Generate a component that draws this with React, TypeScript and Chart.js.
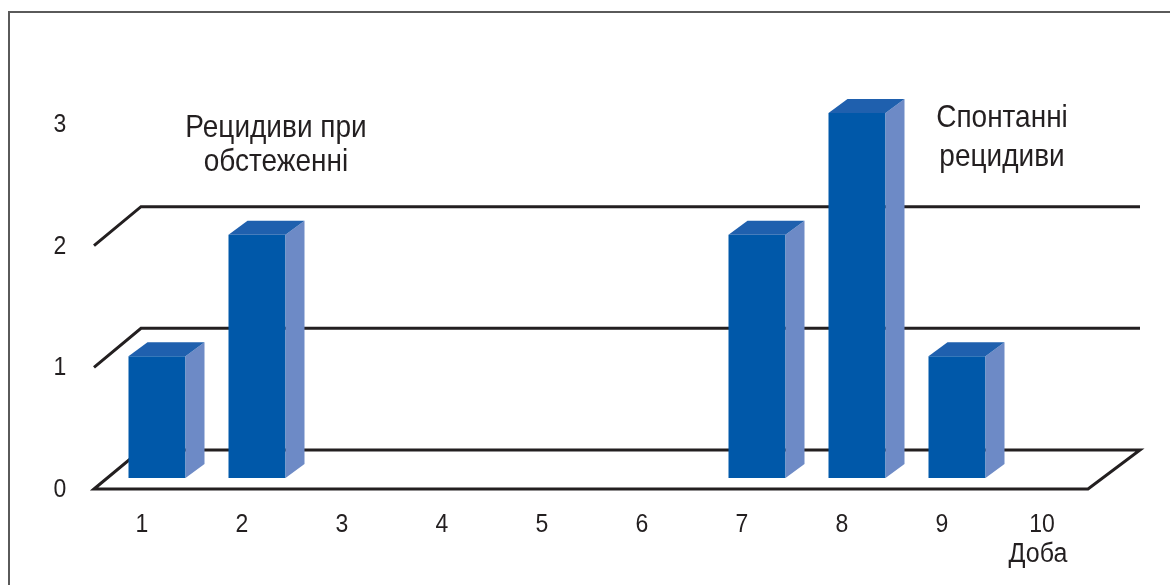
import React, { useEffect, useRef } from "react";
import { Chart, registerables } from "chart.js";

Chart.register(...registerables);

const days = ["1", "2", "3", "4", "5", "6", "7", "8", "9", "10"];
const relapses = [1, 2, 0, 0, 0, 0, 2, 3, 1, 0];
const yTicks = [0, 1, 2, 3];
const gridValues = [1, 2];
const noteLeft = ["Рецидиви при", "обстеженні"];
const noteRight = ["Спонтанні", "рецидиви"];
const xTitle = "Доба";

const FONT = "'Liberation Sans', Arial, sans-serif";
const FRONT_COLOR = "#0058a9";
const SIDE_COLOR = "#6d8ac6";
const TOP_COLOR = "#1f60ae";
const LINE_COLOR = "#231f20";
const TEXT_COLOR = "#231f20";
const V_STRETCH = 1.1;

// depth geometry (pixels)
const FLOOR_DX = 47;
const FLOOR_DY = 39;
const BAR_FRONT_OFF = 11; // bar baseline above front edge
const BAR_DX = 19;
const BAR_DY = 14;

function drawText(ctx: CanvasRenderingContext2D, text: string, x: number, y: number, size: number, align: CanvasTextAlign = "center") {
  ctx.save();
  ctx.translate(x, y);
  ctx.scale(1, V_STRETCH);
  ctx.font = `${size}px ${FONT}`;
  ctx.textAlign = align;
  ctx.textBaseline = "alphabetic";
  ctx.fillStyle = TEXT_COLOR;
  ctx.fillText(text, 0, 0);
  ctx.restore();
}

const threeD = {
  id: "threeD",
  beforeDatasetsDraw(chart: any) {
    const ctx = chart.ctx;
    const ys = chart.scales.y;
    const ca = chart.chartArea;
    const xFL = ca.left - 13;
    const xFR = ca.right - 19;
    const xBR = ca.right + 33;
    ctx.save();
    // frame
    ctx.strokeStyle = "#5a5a5a";
    ctx.lineWidth = 2;
    ctx.beginPath();
    ctx.moveTo(9, 585);
    ctx.lineTo(9, 12);
    ctx.lineTo(1170, 12);
    ctx.stroke();

    ctx.strokeStyle = LINE_COLOR;
    ctx.lineWidth = 3;
    ctx.lineJoin = "miter";
    gridValues.forEach((v) => {
      const yF = ys.getPixelForValue(v) + BAR_FRONT_OFF;
      ctx.beginPath();
      ctx.moveTo(xFL, yF);
      ctx.lineTo(xFL + FLOOR_DX, yF - FLOOR_DY);
      ctx.lineTo(xBR, yF - FLOOR_DY);
      ctx.stroke();
    });
    const y0 = ys.getPixelForValue(0) + BAR_FRONT_OFF;
    ctx.beginPath();
    ctx.moveTo(xFL, y0);
    ctx.lineTo(xFL + FLOOR_DX, y0 - FLOOR_DY);
    ctx.lineTo(xBR, y0 - FLOOR_DY);
    ctx.lineTo(xFR, y0);
    ctx.closePath();
    ctx.stroke();
    ctx.restore();
  },
  afterDatasetsDraw(chart: any) {
    const ctx = chart.ctx;
    const meta = chart.getDatasetMeta(0);
    ctx.save();
    meta.data.forEach((bar: any, i: number) => {
      if (!relapses[i]) return;
      const { x, y, base, width } = bar.getProps(["x", "y", "base", "width"], true);
      const l = x - width / 2;
      const r = x + width / 2;
      ctx.fillStyle = SIDE_COLOR;
      ctx.beginPath();
      ctx.moveTo(r, y);
      ctx.lineTo(r + BAR_DX, y - BAR_DY);
      ctx.lineTo(r + BAR_DX, base - BAR_DY);
      ctx.lineTo(r, base);
      ctx.closePath();
      ctx.fill();
      ctx.fillStyle = TOP_COLOR;
      ctx.beginPath();
      ctx.moveTo(l, y);
      ctx.lineTo(l + BAR_DX, y - BAR_DY);
      ctx.lineTo(r + BAR_DX, y - BAR_DY);
      ctx.lineTo(r, y);
      ctx.closePath();
      ctx.fill();
    });
    ctx.restore();
  },
  afterDraw(chart: any) {
    const ctx = chart.ctx;
    const xs = chart.scales.x;
    const ys = chart.scales.y;
    yTicks.forEach((v) => {
      drawText(ctx, String(v), 60, ys.getPixelForValue(v) + BAR_FRONT_OFF + 8, 23);
    });
    days.forEach((d, i) => {
      drawText(ctx, d, xs.getPixelForValue(i) - 15, 532, 23);
    });
    drawText(ctx, xTitle, 1038, 562, 25);
    noteLeft.forEach((t, i) => drawText(ctx, t, 276, 137 + i * 34, 28));
    noteRight.forEach((t, i) => drawText(ctx, t, 1002, 127 + i * 39, 28));
  },
};

export default function App() {
  const ref = useRef<HTMLCanvasElement>(null);
  useEffect(() => {
    document.body.style.margin = "0";
    const chart = new Chart(ref.current!, {
      type: "bar",
      data: {
        labels: days,
        datasets: [
          {
            data: relapses,
            backgroundColor: FRONT_COLOR,
            borderWidth: 0,
            categoryPercentage: 1,
            barPercentage: 0.57,
          },
        ],
      },
      options: {
        animation: false,
        responsive: false,
        maintainAspectRatio: false,
        layout: { padding: { left: 0, top: 113, right: 63, bottom: 47 } },
        plugins: { legend: { display: false }, tooltip: { enabled: false } },
        scales: {
          x: {
            grid: { display: false, drawTicks: false },
            border: { display: false },
            ticks: { display: false },
            afterFit: (s: any) => {
              s.height = 60;
            },
          },
          y: {
            min: 0,
            max: 3,
            grid: { display: false, drawTicks: false },
            border: { display: false },
            ticks: { display: false },
            afterFit: (s: any) => {
              s.width = 107;
            },
          },
        },
      },
      plugins: [threeD],
    });
    return () => chart.destroy();
  }, []);
  return <canvas ref={ref} width={1170} height={585} style={{ display: "block" }} />;
}
